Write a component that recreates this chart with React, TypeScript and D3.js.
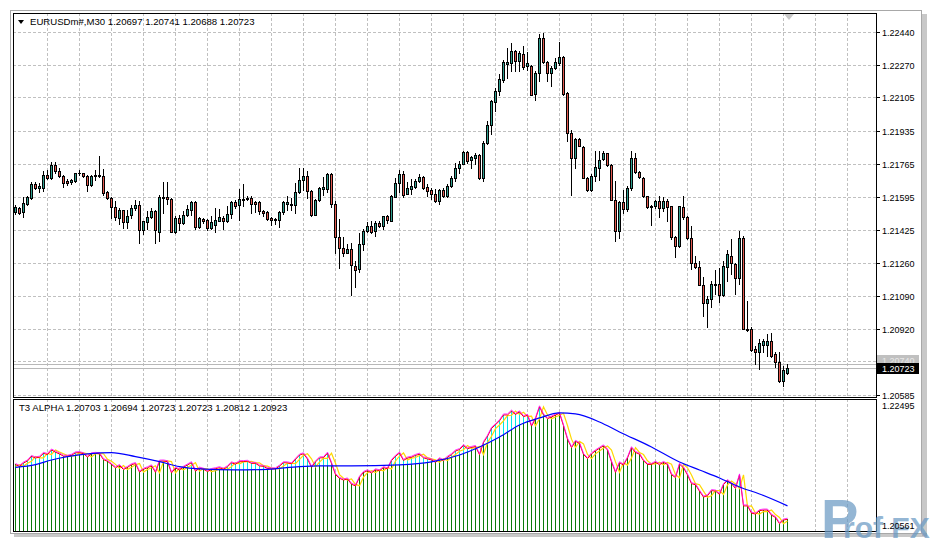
import React, { useEffect, useRef } from "react";
import * as d3 from "d3";

// [open, high, low, close]
type Bar = [number, number, number, number];

const symbolTitle = "EURUSDm#,M30";
const lastQuote = ["1.20697", "1.20741", "1.20688", "1.20723"];
const indicatorTitle = "T3 ALPHA";
const indicatorValues = ["1.20703", "1.20694", "1.20723", "1.20723", "1.20812", "1.20923"];

const priceTicks = [1.2244, 1.2227, 1.22105, 1.21935, 1.21765, 1.21595, 1.21425, 1.2126, 1.2109, 1.2092, 1.20755, 1.20585];
const hiddenTicks = [1.20755];
const subTicks = [1.22495, 1.20561];
const askPrice = 1.2074;
const bidPrice = 1.20723;

const candles: Bar[] = [
  [1.21517, 1.21557, 1.21511, 1.21543], [1.2154, 1.21543, 1.21509, 1.21514], [1.21517, 1.21596, 1.21494, 1.21565],
  [1.21562, 1.21602, 1.21557, 1.21596], [1.21591, 1.2167, 1.21585, 1.21664], [1.21664, 1.2167, 1.21636, 1.21641],
  [1.21641, 1.21667, 1.21621, 1.21653], [1.21641, 1.21727, 1.21625, 1.2171], [1.2171, 1.21732, 1.21687, 1.21693],
  [1.21693, 1.21774, 1.21687, 1.21761], [1.21761, 1.21774, 1.21718, 1.21727], [1.2173, 1.21744, 1.21698, 1.21701],
  [1.21704, 1.2171, 1.21645, 1.21667], [1.21676, 1.21687, 1.21659, 1.21667], [1.21672, 1.21689, 1.21662, 1.21681],
  [1.21676, 1.21721, 1.21674, 1.21718], [1.21716, 1.21732, 1.2171, 1.21721], [1.21718, 1.21721, 1.21698, 1.21704],
  [1.21704, 1.2171, 1.21625, 1.21655], [1.21655, 1.2171, 1.2165, 1.21704], [1.21704, 1.21735, 1.21684, 1.2171],
  [1.2171, 1.21803, 1.21698, 1.21704], [1.21704, 1.21738, 1.21608, 1.21616], [1.21621, 1.21625, 1.21585, 1.21591],
  [1.21591, 1.21594, 1.21489, 1.21543], [1.21545, 1.21574, 1.2148, 1.21494], [1.21487, 1.2154, 1.21455, 1.21528],
  [1.21528, 1.21531, 1.21438, 1.21468], [1.21468, 1.21531, 1.21438, 1.215], [1.21502, 1.21557, 1.21489, 1.2154],
  [1.2154, 1.21582, 1.21528, 1.21557], [1.21557, 1.21574, 1.21358, 1.21429], [1.21429, 1.21475, 1.21404, 1.21472],
  [1.21468, 1.21523, 1.21432, 1.21494], [1.21494, 1.2154, 1.21489, 1.21523], [1.21523, 1.21531, 1.21358, 1.21426],
  [1.21417, 1.21608, 1.2137, 1.21594], [1.21589, 1.2167, 1.21514, 1.21596], [1.21596, 1.2167, 1.21562, 1.21585],
  [1.21587, 1.21591, 1.21415, 1.21417], [1.21417, 1.21497, 1.21412, 1.21489], [1.21489, 1.21506, 1.21426, 1.21463],
  [1.21463, 1.21526, 1.21455, 1.21502], [1.21502, 1.21557, 1.21497, 1.21536], [1.21531, 1.21574, 1.21506, 1.2157],
  [1.2157, 1.21577, 1.21432, 1.21443], [1.21443, 1.21492, 1.21438, 1.21489], [1.21483, 1.21489, 1.21463, 1.21472],
  [1.21477, 1.21483, 1.21429, 1.21438], [1.21438, 1.215, 1.21434, 1.21468], [1.21451, 1.2154, 1.21415, 1.2148],
  [1.21475, 1.21534, 1.21472, 1.21495], [1.21489, 1.215, 1.21432, 1.21472], [1.21472, 1.21551, 1.21466, 1.21511],
  [1.21511, 1.21574, 1.21489, 1.21568], [1.2157, 1.21579, 1.2154, 1.21548], [1.21553, 1.21638, 1.21477, 1.21585],
  [1.21582, 1.21664, 1.21548, 1.21587], [1.21584, 1.21599, 1.21579, 1.21591], [1.21591, 1.21602, 1.21514, 1.2156],
  [1.21568, 1.21574, 1.21519, 1.2156], [1.21568, 1.21574, 1.21511, 1.21522], [1.21526, 1.21528, 1.21497, 1.21514],
  [1.21519, 1.21522, 1.21477, 1.21483], [1.21489, 1.21492, 1.21454, 1.21477], [1.21483, 1.21489, 1.2146, 1.21478],
  [1.21477, 1.21526, 1.21441, 1.21519], [1.21519, 1.21577, 1.21511, 1.2157], [1.2156, 1.21599, 1.21531, 1.21568],
  [1.21562, 1.21591, 1.21531, 1.21553], [1.21557, 1.21667, 1.21514, 1.21621], [1.21621, 1.21744, 1.21616, 1.21684],
  [1.21681, 1.21744, 1.21633, 1.21704], [1.21704, 1.21727, 1.21591, 1.21625], [1.21628, 1.21633, 1.215, 1.21502],
  [1.21506, 1.21585, 1.21502, 1.21582], [1.21579, 1.21647, 1.21577, 1.21642], [1.21636, 1.21698, 1.21608, 1.21645],
  [1.21636, 1.21721, 1.21619, 1.21713], [1.21713, 1.21718, 1.21545, 1.2156], [1.21562, 1.21574, 1.21307, 1.21392],
  [1.21392, 1.21485, 1.21234, 1.21336], [1.21336, 1.21392, 1.21296, 1.2131], [1.2131, 1.21356, 1.21307, 1.21327],
  [1.21327, 1.21358, 1.21094, 1.21247], [1.21245, 1.21268, 1.21137, 1.21222], [1.21225, 1.21412, 1.21211, 1.21353],
  [1.21353, 1.21432, 1.21324, 1.21424], [1.21421, 1.21466, 1.21417, 1.21449], [1.21449, 1.21472, 1.21412, 1.21417],
  [1.21421, 1.21472, 1.21395, 1.21463], [1.21463, 1.21472, 1.21441, 1.21449], [1.21449, 1.215, 1.21432, 1.21497],
  [1.215, 1.21506, 1.21463, 1.21477], [1.21475, 1.21604, 1.21472, 1.21602], [1.21596, 1.21692, 1.21594, 1.21667],
  [1.21667, 1.21735, 1.21619, 1.21715], [1.21715, 1.21727, 1.21594, 1.21604], [1.21612, 1.21674, 1.21612, 1.2164],
  [1.21638, 1.21686, 1.21609, 1.21652], [1.21648, 1.21689, 1.21643, 1.2168], [1.21677, 1.21711, 1.21674, 1.21697],
  [1.21697, 1.21703, 1.21638, 1.21643], [1.21646, 1.2166, 1.21601, 1.21626], [1.21629, 1.2164, 1.21584, 1.21612],
  [1.21612, 1.21638, 1.21572, 1.21575], [1.21575, 1.21635, 1.21561, 1.21629], [1.21629, 1.2164, 1.21595, 1.21601],
  [1.21601, 1.21663, 1.21597, 1.21652], [1.21652, 1.21703, 1.21648, 1.21691], [1.21691, 1.21771, 1.21677, 1.21745],
  [1.21742, 1.21779, 1.2172, 1.21767], [1.21765, 1.21833, 1.21762, 1.21827], [1.21827, 1.21833, 1.21771, 1.21779],
  [1.21784, 1.21805, 1.21745, 1.21799], [1.21796, 1.21822, 1.21762, 1.21813], [1.21813, 1.21816, 1.21686, 1.21691],
  [1.21691, 1.21884, 1.21677, 1.21873], [1.21873, 1.21983, 1.21869, 1.21966], [1.21966, 1.22094, 1.21918, 1.22085],
  [1.2208, 1.22153, 1.22037, 1.22139], [1.22136, 1.22224, 1.22116, 1.22199], [1.22196, 1.22298, 1.22184, 1.22286],
  [1.22277, 1.22357, 1.22204, 1.22286], [1.22281, 1.22383, 1.22238, 1.22343], [1.22343, 1.22347, 1.22238, 1.22294],
  [1.22294, 1.22343, 1.22238, 1.22332], [1.22326, 1.22366, 1.2225, 1.2226], [1.22264, 1.2234, 1.22247, 1.22281],
  [1.22267, 1.22272, 1.22116, 1.22119], [1.22122, 1.22238, 1.2209, 1.2223], [1.2223, 1.22428, 1.22187, 1.22408],
  [1.22408, 1.22434, 1.22281, 1.22286], [1.22286, 1.22292, 1.22187, 1.2223], [1.2223, 1.22264, 1.22162, 1.22255],
  [1.22255, 1.22309, 1.22252, 1.22284], [1.22281, 1.22388, 1.22272, 1.22311], [1.22311, 1.22315, 1.22119, 1.22124],
  [1.22128, 1.22131, 1.21881, 1.21923], [1.21923, 1.21941, 1.21606, 1.21796], [1.21796, 1.21898, 1.21745, 1.2189],
  [1.2189, 1.21898, 1.21855, 1.21859], [1.21852, 1.21855, 1.21691, 1.21694], [1.21694, 1.21697, 1.21626, 1.21631],
  [1.21631, 1.21711, 1.21626, 1.21703], [1.21703, 1.2183, 1.21677, 1.21748], [1.21745, 1.21829, 1.21684, 1.21786],
  [1.21789, 1.21832, 1.21786, 1.21823], [1.2182, 1.21823, 1.21752, 1.21761], [1.21761, 1.21766, 1.21579, 1.21582],
  [1.21582, 1.21676, 1.2137, 1.21424], [1.21424, 1.21577, 1.21387, 1.2157], [1.2157, 1.21633, 1.21514, 1.21534],
  [1.21534, 1.2165, 1.21523, 1.21641], [1.21641, 1.21829, 1.21633, 1.21795], [1.21795, 1.21823, 1.21718, 1.21723],
  [1.21723, 1.21727, 1.21692, 1.21698], [1.21692, 1.21698, 1.21596, 1.21599], [1.21599, 1.21602, 1.2154, 1.21543],
  [1.21551, 1.21557, 1.21451, 1.21545], [1.21551, 1.21582, 1.2154, 1.21577], [1.21577, 1.21599, 1.21494, 1.2154],
  [1.2154, 1.21596, 1.21522, 1.21574], [1.21574, 1.21585, 1.21472, 1.21543], [1.21548, 1.21551, 1.21383, 1.2139],
  [1.2139, 1.21395, 1.2129, 1.21347], [1.21344, 1.21551, 1.21341, 1.21548], [1.21545, 1.21599, 1.21485, 1.21494],
  [1.21494, 1.21497, 1.21383, 1.21387], [1.21387, 1.21449, 1.21225, 1.21256], [1.21256, 1.21293, 1.21234, 1.21239],
  [1.21239, 1.21268, 1.21143, 1.21143], [1.21143, 1.21188, 1.20987, 1.21055], [1.21052, 1.21089, 1.20928, 1.21075],
  [1.21075, 1.21166, 1.21035, 1.21152], [1.21152, 1.2122, 1.21098, 1.21145], [1.21152, 1.21234, 1.2106, 1.21094],
  [1.21094, 1.21268, 1.21089, 1.21242], [1.21239, 1.21324, 1.21166, 1.21302], [1.21296, 1.21381, 1.212, 1.21256],
  [1.21251, 1.21256, 1.21098, 1.21183], [1.21183, 1.21421, 1.21149, 1.21387], [1.21387, 1.21395, 1.20919, 1.20922],
  [1.20917, 1.21064, 1.20911, 1.20922], [1.20922, 1.20928, 1.20809, 1.20814], [1.20817, 1.20834, 1.20741, 1.208],
  [1.208, 1.20868, 1.20718, 1.20851], [1.20837, 1.20868, 1.208, 1.2086], [1.20837, 1.20894, 1.20783, 1.2086],
  [1.2086, 1.20902, 1.20775, 1.20783], [1.20792, 1.208, 1.20724, 1.20749], [1.20749, 1.208, 1.2065, 1.20656],
  [1.20656, 1.20732, 1.20627, 1.2071], [1.20697, 1.20741, 1.20688, 1.20723],
];

// slow T3 (blue) read at selected bars
const blueIdx = [0, 5, 9, 13, 18, 24, 30, 36, 41, 46, 55, 63, 71, 76, 84, 96, 104, 111, 116, 121, 126, 131, 136, 140, 146, 151, 159, 166, 171, 176, 181, 186, 193];
const blueVals = [
  1.21501, 1.2154, 1.21611, 1.21661, 1.21701, 1.21721, 1.21661, 1.21586, 1.21511, 1.21476, 1.21461,
  1.21471, 1.21511, 1.21521, 1.21521, 1.21536, 1.21581, 1.21686, 1.21806, 1.21956, 1.22136, 1.22241,
  1.22316, 1.22301, 1.22181, 1.22031, 1.21806, 1.21581, 1.21461, 1.21341, 1.21206, 1.21101, 1.20923,
];

const BULL = "#2f9e8e";
const BEAR = "#e2584e";

const T3Chart: React.FC = () => {
  const svgRef = useRef<SVGSVGElement | null>(null);

  useEffect(() => {
    if (!svgRef.current) return;
    const svg = d3.select(svgRef.current);
    svg.selectAll("*").remove();

    const left = 13, right = 876;
    const mainTop = 13, mainBottom = 397;
    const subTop = 399, subBottom = 531;
    const font = "'Liberation Sans', Arial, sans-serif";

    const x = d3.scaleLinear().domain([0, candles.length - 1]).range([15, 15 + 4 * (candles.length - 1)]);
    const y = d3.scaleLinear().domain([1.20585, 1.2244]).range([394.5, 32]);
    const ys = d3.scaleLinear().domain([1.20561, 1.22495]).range([530, 401]);
    const px = (i: number) => Math.round(x(i));

    // window frame + shadow
    svg.append("rect").attr("x", 922).attr("y", 14).attr("width", 5).attr("height", 522).attr("fill", "#9a9a9a").attr("opacity", 0.55);
    svg.append("rect").attr("x", 14).attr("y", 533).attr("width", 913).attr("height", 4).attr("fill", "#9a9a9a").attr("opacity", 0.55);
    svg.append("rect").attr("x", 10.5).attr("y", 10.5).attr("width", 911).attr("height", 523)
      .attr("fill", "#fff").attr("stroke", "#a8a8a8");

    const defs = svg.append("defs");
    defs.append("clipPath").attr("id", "clipMain").append("rect")
      .attr("x", left + 1).attr("y", mainTop + 1).attr("width", right - left - 1).attr("height", mainBottom - mainTop - 1);
    defs.append("clipPath").attr("id", "clipSub").append("rect")
      .attr("x", left + 1).attr("y", subTop + 1).attr("width", right - left - 1).attr("height", subBottom - subTop - 1);
    const pat = defs.append("pattern").attr("id", "cyanHatch").attr("patternUnits", "userSpaceOnUse")
      .attr("x", 15).attr("y", 0).attr("width", 4).attr("height", 4);
    pat.append("rect").attr("x", 0).attr("y", 0).attr("width", 1).attr("height", 4).attr("fill", "#00e5e5");

    // blue line region for clipping the cyan hatch (above blue line)
    const blueCurve = d3.curveMonotoneX;
    const bluePts: [number, number][] = blueIdx.map((b, k) => [x(b) + 0.5, ys(blueVals[k])]);
    defs.append("clipPath").attr("id", "aboveBlue").append("path")
      .attr("d", d3.area<[number, number]>().x(d => d[0]).y0(subTop).y1(d => d[1]).curve(blueCurve)(bluePts) || "");

    // grids
    const main = svg.append("g").attr("clip-path", "url(#clipMain)");
    const sub = svg.append("g").attr("clip-path", "url(#clipSub)");
    const gridX = d3.range(1, 28).map(k => 15 + 32 * k + 0.5).filter(v => v < right);
    [main, sub].forEach((g, n) => {
      g.selectAll("line.gx").data(gridX).enter().append("line")
        .attr("x1", d => d).attr("x2", d => d)
        .attr("y1", n === 0 ? mainTop : subTop).attr("y2", n === 0 ? mainBottom : subBottom)
        .attr("stroke", "#c0c0c0").attr("stroke-dasharray", "3,2");
    });
    main.selectAll("line.gy").data(priceTicks).enter().append("line")
      .attr("x1", left).attr("x2", right)
      .attr("y1", d => Math.round(y(d)) + 0.5).attr("y2", d => Math.round(y(d)) + 0.5)
      .attr("stroke", "#c0c0c0").attr("stroke-dasharray", "3,2");

    // ask / bid lines
    [askPrice, bidPrice].forEach(p => {
      main.append("line").attr("x1", left).attr("x2", right)
        .attr("y1", Math.round(y(p)) + 0.5).attr("y2", Math.round(y(p)) + 0.5)
        .attr("stroke", "#b8b8b8");
    });

    // candles
    const cg = main.append("g");
    candles.forEach((d, i) => {
      const [o, h, l, c] = d;
      const cx = px(i);
      cg.append("rect").attr("x", cx).attr("y", Math.round(y(h))).attr("width", 1)
        .attr("height", Math.max(1, Math.round(y(l)) - Math.round(y(h)) + 1)).attr("fill", "#000");
      const top = Math.round(y(Math.max(o, c)));
      const bot = Math.round(y(Math.min(o, c)));
      const hgt = Math.max(1, bot - top + 1);
      cg.append("rect").attr("x", cx - 1).attr("y", top).attr("width", 3).attr("height", hgt).attr("fill", "#000");
      if (hgt > 2) {
        cg.append("rect").attr("x", cx).attr("y", top + 1).attr("width", 1).attr("height", hgt - 2)
          .attr("fill", c >= o ? BULL : BEAR);
      }
    });

    // sub window: histogram
    sub.selectAll("rect.hist").data(candles).enter().append("rect")
      .attr("x", (_, i) => px(i)).attr("y", d => Math.round(ys(d[3])))
      .attr("width", 1).attr("height", d => subBottom - Math.round(ys(d[3])))
      .attr("fill", "#0a7a0a");
    const hatchArea = d3.area<Bar>().x((_, i) => px(i) + 0.5).y0(subBottom).y1(d => ys(d[3]));
    sub.append("g").attr("clip-path", "url(#aboveBlue)").append("path")
      .attr("d", hatchArea(candles) || "").attr("fill", "url(#cyanHatch)");

    const lineOf = (k: number) => d3.line<Bar>().x((_, i) => px(i) + 0.5).y(d => ys(d[k]));
    sub.append("path").attr("d", lineOf(0)(candles) || "").attr("fill", "none").attr("stroke", "#ffd800").attr("stroke-width", 1.2);
    sub.append("path").attr("d", lineOf(3)(candles) || "").attr("fill", "none").attr("stroke", "#ff0000").attr("stroke-width", 1);
    sub.append("path").attr("d", d3.line<Bar>().x((_, i) => px(i) + 0.5).y(d => ys(d[3]) - 1)(candles) || "")
      .attr("fill", "none").attr("stroke", "#ff00ff").attr("stroke-width", 1).attr("opacity", 0.8);
    sub.append("path").attr("d", d3.line<[number, number]>().x(d => d[0]).y(d => d[1]).curve(blueCurve)(bluePts) || "")
      .attr("fill", "none").attr("stroke", "#0000ff").attr("stroke-width", 1.2);

    // panel borders
    svg.append("rect").attr("x", left + 0.5).attr("y", mainTop + 0.5).attr("width", right - left).attr("height", mainBottom - mainTop)
      .attr("fill", "none").attr("stroke", "#000");
    svg.append("rect").attr("x", left + 0.5).attr("y", subTop + 0.5).attr("width", right - left).attr("height", subBottom - subTop)
      .attr("fill", "none").attr("stroke", "#000");

    // watermark (behind the axis text)
    const wm = svg.append("g").attr("font-family", font).attr("font-weight", "bold").attr("fill", "#6b9ac4").attr("opacity", 0.72);
    wm.append("text").attr("x", 821).attr("y", 538).attr("font-size", 56).text("P");
    wm.append("text").attr("x", 843).attr("y", 538).attr("font-size", 30).text("rof FX");

    // price axis
    const axis = svg.append("g").attr("font-family", font).attr("font-size", 9).attr("fill", "#000");
    priceTicks.forEach(p => {
      const yy = Math.round(y(p)) + 0.5;
      axis.append("line").attr("x1", right + 1).attr("x2", right + 4).attr("y1", yy).attr("y2", yy).attr("stroke", "#000");
      if (!hiddenTicks.includes(p)) {
        axis.append("text").attr("x", 882).attr("y", yy).attr("dy", "0.35em").text(p.toFixed(5));
      }
    });
    subTicks.forEach((p, k) => {
      axis.append("text").attr("x", 882).attr("y", k === 0 ? 406 : 526).attr("dy", "0.35em").text(p.toFixed(5));
    });
    const ay = Math.round(y(askPrice)) - 3;
    axis.append("rect").attr("x", 877).attr("y", ay - 6).attr("width", 42).attr("height", 11).attr("fill", "#c0c0c0");
    axis.append("text").attr("x", 882).attr("y", ay).attr("dy", "0.35em").attr("fill", "#e8e8e8").text(askPrice.toFixed(5));
    const by = Math.round(y(bidPrice));
    axis.append("rect").attr("x", 877).attr("y", by - 5).attr("width", 42).attr("height", 11).attr("fill", "#000");
    axis.append("text").attr("x", 882).attr("y", by + 0.5).attr("dy", "0.35em").attr("fill", "#fff").text(bidPrice.toFixed(5));

    // titles
    svg.append("path").attr("d", "M18,20 L24,20 L21,24 Z").attr("fill", "#000");
    svg.append("text").attr("x", 30).attr("y", 22).attr("dy", "0.35em").attr("font-family", font).attr("font-size", 9.6)
      .text(`${symbolTitle}  ${lastQuote.join(" ")}`);
    svg.append("text").attr("x", 19).attr("y", 408).attr("dy", "0.35em").attr("font-family", font).attr("font-size", 9.6)
      .text(`${indicatorTitle} ${indicatorValues.join(" ")}`);

    // chart shift marker
    svg.append("path").attr("d", "M784,14 L794,14 L789,20 Z").attr("fill", "#c8c8c8");
  }, []);

  return (
    <svg ref={svgRef} width={935} height={542} style={{ position: "absolute", left: 0, top: 0, background: "#fff" }} />
  );
};

export default function App() {
  return <T3Chart />;
}
